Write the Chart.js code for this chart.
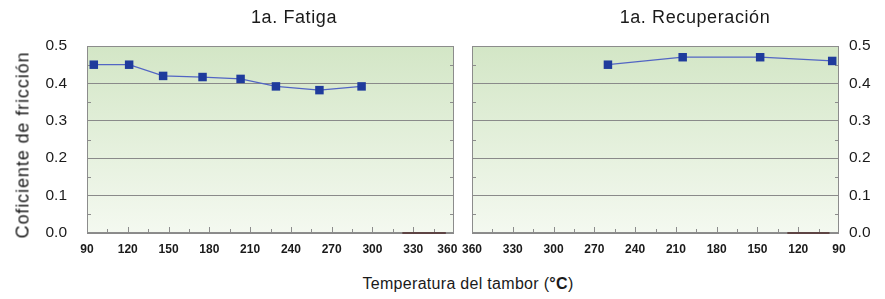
<!DOCTYPE html>
<html>
<head>
<meta charset="utf-8">
<script src="https://cdn.jsdelivr.net/npm/chart.js@4.4.1/dist/chart.umd.min.js"></script>
<style>
  body { margin: 0; background: #fff; }
  #wrap { position: relative; width: 885px; height: 299px; overflow: hidden; font-family: "Liberation Sans", Arial, sans-serif; color: #1a1a1a; }
  .cv { position: absolute; top: 0; }
  .txt { position: absolute; white-space: nowrap; }
</style>
</head>
<body>
<div id="wrap">
  <div class="cv" style="left:0;width:480px;height:270px"><canvas id="fatiga"></canvas></div>
  <div class="cv" style="left:450px;width:435px;height:270px"><canvas id="recup"></canvas></div>
  <div class="txt" id="t1" style="left:294px;top:17px;font-size:18px;letter-spacing:0.6px;transform:translate(-50%,-50%)">1a. Fatiga</div>
  <div class="txt" id="t2" style="left:695px;top:17px;font-size:18px;letter-spacing:0.6px;transform:translate(-50%,-50%)">1a. Recuperación</div>
  <div class="txt" id="ytitle" style="left:23px;top:145px;font-size:18px;letter-spacing:0.9px;transform:translate(-50%,-50%) rotate(-90deg)">Coficiente de fricción</div>
  <div class="txt" id="xtitle" style="left:468px;top:284px;font-size:16px;letter-spacing:0.3px;transform:translate(-50%,-50%)">Temperatura del tambor (<b>°C</b>)</div>
</div>
<script>
// values
const fatigaTemp = [95, 121, 146, 175, 203, 229, 261, 292];
const fatigaMu = [0.45, 0.45, 0.42, 0.417, 0.412, 0.392, 0.382, 0.392];
const recupTemp = [260, 205, 148, 95];
const recupMu = [0.45, 0.47, 0.47, 0.46];
// short dark stroke lying on the base line
const fatigaBaseTemp = [322, 354];
const recupBaseTemp = [128, 97];
const baseMu = [0, 0];

const yTicks = [0, 0.1, 0.2, 0.3, 0.4, 0.5];
const tempMin = 90, tempMax = 360, tempStep = 30;

function pts(xs, ys) {
  return xs.map((x, i) => ({ x: x, y: ys[i] }));
}

// plot background, frame and small inward ticks
const framePlugin = {
  id: 'frame',
  beforeDraw(chart) {
    const a = chart.chartArea;
    const ctx = chart.ctx;
    const g = ctx.createLinearGradient(0, a.top, 0, a.bottom);
    g.addColorStop(0, '#d3e6c6');
    g.addColorStop(1, '#f4f9f0');
    ctx.save();
    ctx.fillStyle = g;
    ctx.fillRect(a.left, a.top, a.right - a.left, a.bottom - a.top);
    ctx.restore();
  },
  beforeDatasetsDraw(chart) {
    const a = chart.chartArea;
    const ctx = chart.ctx;
    const xs = chart.scales.x, ys = chart.scales.y;
    ctx.save();
    ctx.strokeStyle = '#8c8c8c';
    ctx.lineWidth = 1;
    ctx.strokeRect(a.left + 0.5, a.top + 0.5, a.right - a.left - 1, a.bottom - a.top - 1);
    ctx.beginPath();
    for (let v = 0.05; v < 0.5; v += 0.1) {
      const py = Math.round(ys.getPixelForValue(v)) + 0.5;
      ctx.moveTo(a.left, py); ctx.lineTo(a.left + 4, py);
      ctx.moveTo(a.right - 4, py); ctx.lineTo(a.right, py);
    }
    for (let t = tempMin + 15; t < tempMax; t += 15) {
      const px = Math.round(xs.getPixelForValue(t)) + 0.5;
      const len = (t - tempMin) % 30 === 0 ? 6 : 4;
      ctx.moveTo(px, a.bottom); ctx.lineTo(px, a.bottom - len);
    }
    ctx.stroke();
    ctx.restore();
  }
};

function makeChart(id, temps, mus, baseTemps, reverse, yPos, padLeft, padRight, yWidth) {
  return new Chart(document.getElementById(id), {
    type: 'line',
    data: {
      datasets: [{
        data: pts(temps, mus),
        borderColor: '#5265c4',
        borderWidth: 1.2,
        backgroundColor: '#1f3b9c',
        pointBorderColor: '#1f3b9c',
        pointStyle: 'rect',
        pointRadius: 6,
        pointBorderWidth: 0,
        tension: 0
      }, {
        data: pts(baseTemps, baseMu),
        borderColor: '#5e4444',
        borderWidth: 2,
        pointRadius: 0,
        clip: false
      }]
    },
    options: {
      responsive: true,
      maintainAspectRatio: false,
      animation: false,
      layout: { padding: { top: 46, left: padLeft, right: padRight, bottom: 0 } },
      plugins: { legend: { display: false }, tooltip: { enabled: false } },
      scales: {
        x: {
          type: 'linear',
          reverse: reverse,
          min: tempMin,
          max: tempMax,
          grid: { display: false, drawTicks: false },
          border: { display: false },
          ticks: {
            stepSize: tempStep,
            padding: 9,
            color: '#1a1a1a',
            maxRotation: 0,
            autoSkip: false,
            // the left panel's last label sits a little inward
            callback: v => (!reverse && v === tempMax) ? v + '\u2007\u2007' : String(v),
            font: { family: 'Liberation Sans', size: 12, weight: 'bold' }
          },
          afterFit(s) { s.height = 37; s.paddingLeft = 0; s.paddingRight = 0; }
        },
        y: {
          position: yPos,
          min: 0,
          max: 0.5,
          afterBuildTicks(s) { s.ticks = yTicks.map(v => ({ value: v })); },
          grid: { color: '#8a8a8a', lineWidth: 1, drawTicks: false },
          border: { display: false },
          ticks: {
            padding: yPos === 'left' ? 20 : 10,
            color: '#1a1a1a',
            callback: v => v.toFixed(1),
            font: { family: 'Liberation Sans', size: 15.5 }
          },
          afterFit(s) { s.width = yWidth; }
        }
      }
    },
    plugins: [framePlugin]
  });
}

makeChart('fatiga', fatigaTemp, fatigaMu, fatigaBaseTemp, false, 'left', 0, 26, 87);
makeChart('recup', recupTemp, recupMu, recupBaseTemp, true, 'right', 22, 0, 46);
</script>
</body>
</html>
